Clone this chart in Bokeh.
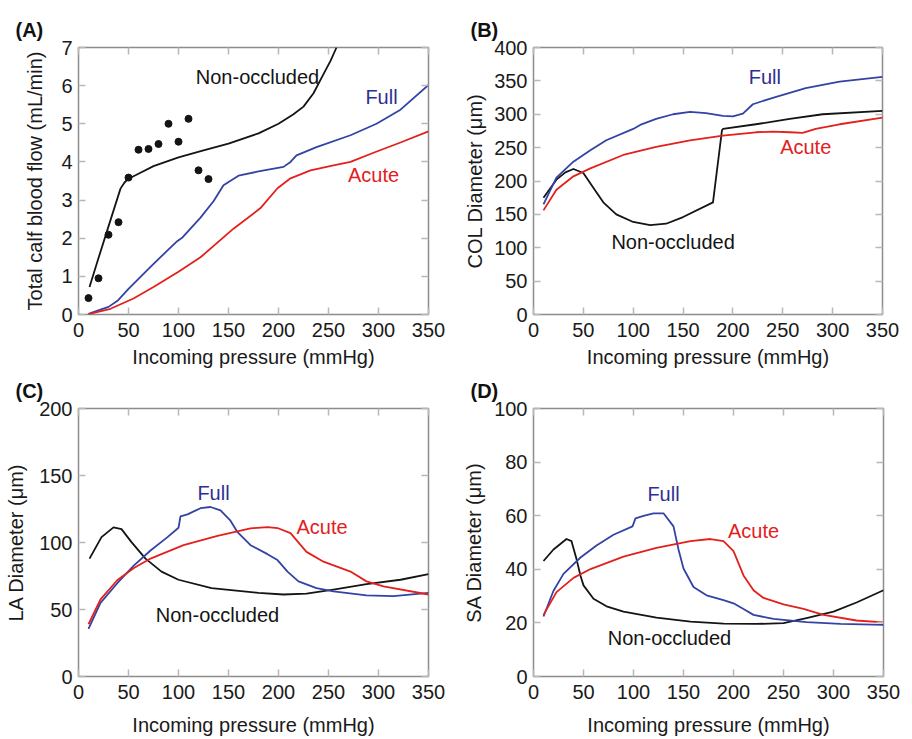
from bokeh.plotting import figure
from bokeh.models import Range1d, LinearAxis, FixedTicker, CustomLabelingPolicy
from bokeh.layouts import column, row
from bokeh.core.properties import value
from bokeh.embed import file_html
from bokeh.resources import INLINE

# ---------------- data ----------------
x_ticks = [0, 50, 100, 150, 200, 250, 300, 350]

# Panel A: total calf blood flow (mL/min)
a_non_x = [11, 20, 30, 42, 46, 50, 60, 75, 100, 125, 150, 180, 200, 215, 225, 235, 245, 252, 258]
a_non_y = [0.72, 1.48, 2.31, 3.30, 3.46, 3.56, 3.69, 3.89, 4.12, 4.30, 4.48, 4.75, 5.00, 5.25, 5.45, 5.80, 6.30, 6.65, 7.00]
a_full_x = [10, 22, 30, 39, 50, 72, 89, 99, 104, 122, 135, 145, 160, 180, 205, 212, 218, 238, 272, 298, 322, 350]
a_full_y = [0.02, 0.13, 0.20, 0.36, 0.67, 1.25, 1.68, 1.93, 2.02, 2.54, 2.97, 3.39, 3.64, 3.75, 3.87, 4.00, 4.17, 4.39, 4.70, 5.00, 5.37, 6.02]
a_acute_x = [10, 32, 55, 75, 100, 122, 155, 182, 199, 212, 232, 255, 272, 295, 322, 350]
a_acute_y = [0.01, 0.15, 0.42, 0.72, 1.12, 1.50, 2.25, 2.79, 3.31, 3.57, 3.78, 3.91, 4.00, 4.24, 4.51, 4.80]
a_exp_x = [10, 20, 30, 40, 50, 60, 70, 80, 90, 100, 110, 120, 130]
a_exp_y = [0.43, 0.95, 2.09, 2.42, 3.59, 4.32, 4.34, 4.47, 5.00, 4.53, 5.13, 3.78, 3.55]

# Panel B: COL diameter (um)
b_non_x = [10, 23, 32, 40, 50, 60, 70, 83, 100, 117, 133, 150, 180, 189, 190, 223, 257, 290, 350]
b_non_y = [175, 202, 213, 218, 212, 190, 168, 150, 138.6, 134, 136, 146, 168, 276, 278, 285, 293, 300, 305]
b_full_x = [10, 23, 40, 57, 73, 100, 107, 123, 140, 157, 173, 190, 200, 210, 220, 240, 273, 307, 350]
b_full_y = [165, 205, 229, 246, 261, 278, 284, 293, 300, 303.5, 301.6, 297.7, 296.7, 301, 315, 324.6, 339, 349, 356]
b_acute_x = [10, 23, 40, 57, 90, 123, 157, 190, 223, 240, 257, 270, 283, 307, 350]
b_acute_y = [156, 187, 207, 219, 239, 251, 261, 268, 273, 274, 273, 272, 278, 285, 295]

# Panel C: LA diameter (um)
c_non_x = [11, 23, 35, 43, 53, 67, 83, 100, 133, 180, 205, 228, 255, 288, 322, 350]
c_non_y = [88, 104, 111.3, 110, 100.3, 88, 78.3, 72.2, 66, 62.4, 61.2, 61.9, 64.9, 69, 72.2, 76.4]
c_full_x = [10, 22, 39, 55, 72, 89, 100, 102, 109, 122, 132, 142, 152, 159, 172, 189, 199, 209, 220, 238, 255, 288, 315, 350]
c_full_y = [35.5, 55, 69.8, 82.5, 94, 104, 111, 119.5, 121, 125.6, 126.5, 124, 116.3, 107.7, 98, 91.3, 86.9, 78.3, 71, 66, 63.6, 60.5, 60, 62.4]
c_acute_x = [10, 22, 39, 55, 72, 105, 139, 172, 189, 199, 212, 228, 245, 272, 288, 305, 350]
c_acute_y = [39, 57.5, 72, 80.8, 88, 98, 105, 110.6, 111.4, 110.8, 107, 93, 85.7, 78.3, 71, 67.3, 61.2]

# Panel D: SA diameter (um)
d_non_x = [10, 20, 33, 38, 43, 47, 50, 60, 73, 90, 123, 157, 190, 223, 250, 273, 300, 323, 350]
d_non_y = [43.1, 47.4, 51.3, 50.5, 43.8, 37.6, 34, 29, 26.2, 24.2, 22, 20.5, 19.7, 19.6, 19.9, 21.8, 24.2, 27.6, 32.2]
d_full_x = [10, 20, 30, 47, 63, 80, 99, 102, 110, 120, 130, 140, 145, 150, 160, 173, 190, 200, 210, 220, 240, 273, 307, 350]
d_full_y = [22.4, 32, 38.3, 44.4, 48.9, 52.9, 56, 59, 59.9, 60.9, 60.9, 56, 47.4, 40.3, 33.4, 30.3, 28.5, 27.3, 25.2, 23, 21.5, 20.3, 19.6, 19.3]
d_acute_x = [10, 23, 40, 57, 90, 123, 157, 177, 190, 200, 210, 220, 230, 250, 270, 290, 323, 350]
d_acute_y = [23, 31.5, 36.8, 40.1, 44.7, 48, 50.5, 51.3, 50.5, 46.8, 37.7, 32.2, 29.3, 26.9, 25.2, 23, 20.9, 20.2]

series_names = ["Non-occluded", "Full", "Acute"]

# ---------------- style ----------------
FONT = "Liberation Sans"
FS = "20px"
BLACK = "#141414"
BLUE = "#3343a3"
BLUE_TXT = "#2e2f90"
RED = "#e3201c"
TICK = "#b8b8b8"
FRAME = "#8c8c8c"


def style_axis(ax, ticks, labels=True):
    ax.ticker = FixedTicker(ticks=ticks)
    ax.major_tick_in = 7
    ax.major_tick_out = 0
    ax.minor_tick_in = 0
    ax.minor_tick_out = 0
    ax.major_tick_line_color = TICK
    ax.major_tick_line_width = 1.5
    ax.axis_line_color = None
    ax.major_label_text_font = FONT
    ax.major_label_text_color = "#1a1a1a"
    ax.axis_label_text_font = FONT
    ax.axis_label_text_font_size = FS
    ax.axis_label_text_font_style = "normal"
    ax.axis_label_text_color = "#1a1a1a"
    if labels:
        ax.major_label_text_font_size = FS
    else:
        # tick marks only: no label is drawn
        ax.major_label_policy = CustomLabelingPolicy(code="return []")
        ax.major_label_text_font_size = "0px"
        ax.major_label_standoff = 0


def make_panel(letter, ylabel, ymax, yticks, lines, label_pos, w, h, bl, br, bt, bb,
               ylab_standoff, xlab_standoff, dots=None):
    p = figure(width=w, height=h, x_range=Range1d(0, 350), y_range=Range1d(0, ymax),
               output_backend="svg", toolbar_location=None,
               min_border_left=bl, min_border_right=br, min_border_top=bt, min_border_bottom=bb)
    p.title.text = letter
    p.title.text_font = FONT
    p.title.text_font_size = FS
    p.title.text_font_style = "bold"
    p.title.align = "left"
    p.title.offset = -63
    p.title.standoff = 14
    p.title.text_color = "#111111"
    p.xgrid.visible = False
    p.ygrid.visible = False
    p.outline_line_color = FRAME
    p.outline_line_width = 1.5
    p.background_fill_color = "white"
    p.border_fill_color = "white"

    style_axis(p.xaxis[0], x_ticks)
    style_axis(p.yaxis[0], yticks)
    p.xaxis[0].axis_label = "Incoming pressure (mmHg)"
    p.yaxis[0].axis_label = ylabel
    p.xaxis[0].major_label_standoff = 8
    p.xaxis[0].axis_label_standoff = xlab_standoff
    p.yaxis[0].major_label_standoff = 6
    p.yaxis[0].axis_label_standoff = ylab_standoff

    top = LinearAxis()
    style_axis(top, x_ticks, labels=False)
    p.add_layout(top, "above")
    right = LinearAxis()
    style_axis(right, yticks, labels=False)
    p.add_layout(right, "right")

    colors = [BLACK, BLUE, RED]
    txt_colors = [BLACK, BLUE_TXT, RED]
    for (xs, ys), c in zip(lines, colors):
        p.line(xs, ys, line_color=c, line_width=1.8, line_join="round")
    if dots is not None:
        p.scatter(dots[0], dots[1], size=7, color=BLACK)
    for name, (lx, ly), tc in zip(series_names, label_pos, txt_colors):
        p.text(x=[lx], y=[ly], text=[name], text_color=tc, text_font=value(FONT),
               text_font_size=value(FS), text_align="center", text_baseline="middle")
    return p


pA = make_panel("(A)", "Total calf blood flow (mL/min)", 7, list(range(0, 8)),
                [(a_non_x, a_non_y), (a_full_x, a_full_y), (a_acute_x, a_acute_y)],
                [(179, 6.22), (303, 5.70), (295, 3.65)],
                456, 370, 78, 28, 47, 52, 12, 6, dots=(a_exp_x, a_exp_y))
pB = make_panel("(B)", "COL Diameter (\u03bcm)", 400, list(range(0, 401, 50)),
                [(b_non_x, b_non_y), (b_full_x, b_full_y), (b_acute_x, b_acute_y)],
                [(140, 109), (232, 356), (273, 251)],
                455, 370, 77, 29, 47, 51, 5, 6)
pC = make_panel("(C)", "LA Diameter (\u03bcm)", 200, list(range(0, 201, 50)),
                [(c_non_x, c_non_y), (c_full_x, c_full_y), (c_acute_x, c_acute_y)],
                [(139, 46), (135, 137), (243.5, 111.4)],
                456, 368, 78, 28, 36, 59, 9, 12)
pD = make_panel("(D)", "SA Diameter (\u03bcm)", 100, list(range(0, 101, 20)),
                [(d_non_x, d_non_y), (d_full_x, d_full_y), (d_acute_x, d_acute_y)],
                [(136, 14.2), (130, 68.2), (220, 54.2)],
                455, 368, 77, 28, 37, 59, 6, 12)

layout = column(row(pA, pB, spacing=0), row(pC, pD, spacing=0), spacing=0)
open("out.html", "w").write(file_html(layout, INLINE))
